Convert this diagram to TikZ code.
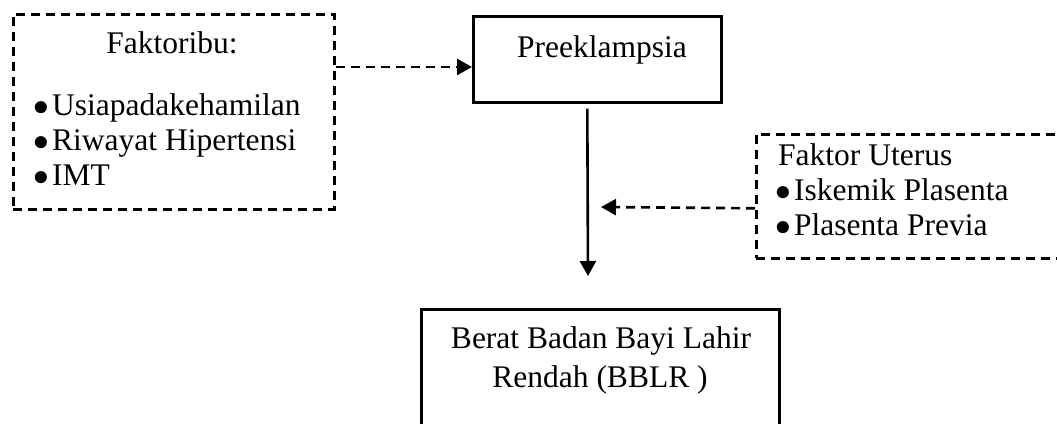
\RequirePackage{fix-cm}
\documentclass[tikz,border=0pt]{standalone}
\usepackage{fontspec}
\setmainfont{Liberation Serif}
\usetikzlibrary{arrows.meta}
\newcommand{\bulitem}[1]{\makebox[19pt][l]{$\bullet$}#1}
\begin{document}
\begin{tikzpicture}[x=1pt,y=-1pt,
  dbox/.style={draw, dash pattern=on 9pt off 6pt, line width=2.6pt, inner sep=0, anchor=north west},
  sbox/.style={draw, line width=2.6pt, inner sep=0, anchor=north west},
  txt/.style={inner sep=0, anchor=base, text height=22pt, text depth=6pt, font=\fontsize{31.5}{35}\selectfont},
  txtl/.style={txt, anchor=base west},
  tipk/.style={-{Triangle[length=15pt,width=16pt]}},
  darrow/.style={tipk, line width=2.6pt, dash pattern=on 9pt off 6pt},
  sarrow/.style={tipk, line width=2.6pt}]
\useasboundingbox (0,0) rectangle (1057,423);
% boxes
\node[dbox, minimum width=321pt, minimum height=195pt] (ibu) at (12,13) {};
\node[sbox, minimum width=248pt, minimum height=86pt] (pre) at (472,15) {};
\node[dbox, minimum width=320pt, minimum height=124pt] (ut) at (755,133) {};
\node[sbox, minimum width=358pt, minimum height=150pt] (bblr) at (420,308) {};
% texts
\node[txt] (t1) at (172,53) {Faktoribu:};
\node[txtl] (t2) at (33,115) {\bulitem{Usiapadakehamilan}};
\node[txtl] (t3) at (33,150) {\bulitem{Riwayat Hipertensi}};
\node[txtl] (t4) at (33,185) {\bulitem{IMT}};
\node[txt] (t5) at (602,57) {Preeklampsia};
\node[txtl] (t6) at (778,165) {Faktor Uterus};
\node[txtl] (t7) at (775,200) {\bulitem{Iskemik Plasenta}};
\node[txtl] (t8) at (775,235) {\bulitem{Plasenta Previa}};
\node[txt] (t9) at (601,348) {Berat Badan Bayi Lahir};
\node[txt] (t10) at (600,387) {Rendah (BBLR )};
% connectors
\coordinate (tip) at (588,276);
\coordinate (mid) at (601,207);
\draw[darrow] ([yshift=-54pt]ibu.north east) -- ([yshift=-52pt]pre.north west);
\draw[sarrow] ([xshift=-10pt,yshift=-5pt]pre.south) -- (tip);
\draw[darrow] ([yshift=-12pt]ut.west) -- (mid);
\end{tikzpicture}
\end{document}
